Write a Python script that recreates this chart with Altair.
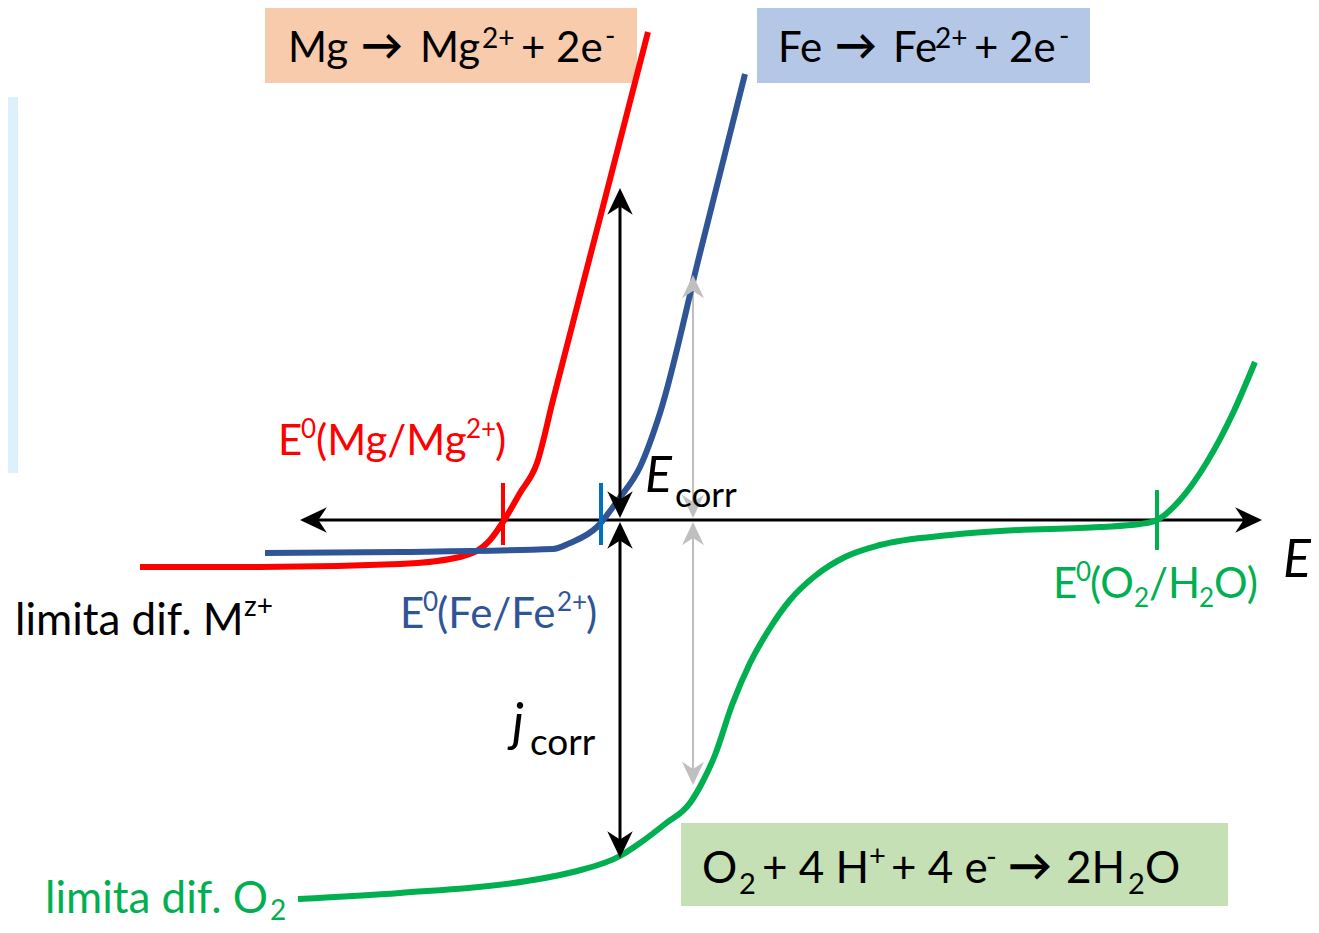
import altair as alt
import pandas as pd

# ---- coordinate system: E (horizontal, reference px units), j = AXIS_ROW - row ----
AXIS_ROW = 520

# Anodic curve Mg -> Mg2+ (E, row)
mg_E = [140, 260, 400, 460, 490, 503, 520, 537, 553, 600, 648]
mg_row = [567, 567, 564, 557, 540, 522, 493, 463, 400, 218, 32]

# Anodic curve Fe -> Fe2+
fe_E = [265, 400, 553, 570, 597, 618, 640, 660, 700, 745]
fe_row = [553, 552, 549, 543, 527, 500, 467, 413, 253, 74]

# O2 / H2O curve
o2_E = [298, 400, 527, 573, 620, 640, 665, 690, 702, 715, 732, 750, 770, 790, 815, 845, 880,
        950, 1000, 1100, 1140, 1157, 1180, 1207, 1233, 1255]
o2_row = [899, 893, 881, 872, 856, 843, 824, 803, 783, 755, 705, 663, 628, 600, 576, 557, 545,
          535, 531, 527, 524, 520, 500, 462, 413, 362]

# straight segments: x, row, x2, row2, color, width
seg_x = [308, 620, 620, 693, 693]
seg_r = [520, 196, 528, 283, 528]
seg_x2 = [1254, 620, 620, 693, 693]
seg_r2 = [520, 512, 850, 512, 777]
seg_col = ["#000000", "#000000", "#000000", "#bfbfbf", "#bfbfbf"]
seg_w = [3, 3, 3, 2, 2]

# E0 tick marks
tick_x = [503, 601, 1157]
tick_r = [483, 483, 490]
tick_r2 = [545, 545, 550]
tick_col = ["#ff0000", "#0070c0", "#00b050"]

# arrow heads: tip position, angle (deg), color, size
head_x = [300, 1262, 620, 620, 620, 620, 693, 693, 693, 693]
head_r = [520, 520, 188, 518, 522, 858, 275, 518, 522, 785]
head_a = [270, 90, 0, 180, 0, 180, 0, 180, 0, 180]
head_c = ["#000000"] * 6 + ["#bfbfbf"] * 4
head_s = [800, 800, 800, 800, 800, 800, 600, 600, 600, 600]

# boxes
box_x = [265, 757, 681, 8]
box_r = [6, 6, 823, 97]
box_x2 = [637, 1090, 1228, 18]
box_r2 = [83, 83, 906, 473]
box_col = ["#f8cbad", "#b4c7e7", "#c5e0b4", "#ddf0fb"]

K, R, B, G = "#000000", "#ff0000", "#2f5597", "#00b050"

# text pieces: text, x (left), baseline row, font size, colour, weight
pieces = [
    # Mg -> Mg2+ + 2e-
    ("Mg", 288, 62, 42, K, "normal"), ("→", 361, 60, 42, K, "bold"),
    ("Mg", 420, 62, 42, K, "normal"), ("2+", 482, 48, 28, K, "normal"),
    ("+ 2e", 521, 62, 42, K, "normal"), ("-", 605, 46, 28, K, "normal"),
    # Fe -> Fe2+ + 2e-
    ("Fe", 778, 62, 42, K, "normal"), ("→", 835, 60, 42, K, "bold"),
    ("Fe", 893, 62, 42, K, "normal"), ("2+", 935, 48, 28, K, "normal"),
    ("+ 2e", 974, 62, 42, K, "normal"), ("-", 1059, 46, 28, K, "normal"),
    # O2 + 4 H+ + 4 e- -> 2H2O
    ("O", 702, 883, 44, K, "normal"), ("2", 739, 894, 29, K, "normal"),
    ("+ 4 H", 762, 883, 44, K, "normal"), ("+", 869, 866, 29, K, "normal"),
    ("+ 4 e", 891, 883, 44, K, "normal"), ("-", 986, 867, 29, K, "normal"),
    ("→", 1008, 881, 44, K, "bold"), ("2H", 1066, 883, 44, K, "normal"),
    ("2", 1128, 894, 29, K, "normal"), ("O", 1145, 883, 44, K, "normal"),
    # E0(Mg/Mg2+)
    ("E", 278, 455, 42, R, "normal"), ("0", 301, 438, 26, R, "normal"),
    ("(Mg/Mg", 316, 455, 42, R, "normal"), ("2+", 466, 438, 26, R, "normal"),
    (")", 495, 455, 42, R, "normal"),
    # E0(Fe/Fe2+)
    ("E", 400, 628, 42, B, "normal"), ("0", 423, 611, 26, B, "normal"),
    ("(Fe/Fe", 437, 628, 42, B, "normal"), ("2+", 557, 611, 26, B, "normal"),
    (")", 586, 628, 42, B, "normal"),
    # E0(O2/H2O)
    ("E", 1053, 598, 42, G, "normal"), ("0", 1076, 581, 26, G, "normal"),
    ("(O", 1090, 598, 42, G, "normal"), ("2", 1134, 607, 26, G, "normal"),
    ("/H", 1149, 598, 42, G, "normal"), ("2", 1199, 607, 26, G, "normal"),
    ("O)", 1214, 598, 42, G, "normal"),
    # diffusion limits
    ("limita dif. M", 15, 635, 44, K, "normal"), ("z+", 244, 616, 28, K, "normal"),
    ("limita dif. O", 45, 913, 44, G, "normal"), ("2", 270, 920, 28, G, "normal"),
    # subscripts of E_corr / j_corr
    ("corr", 675, 507, 35, K, "normal"), ("corr", 530, 755, 37, K, "normal"),
]

# italic texts
itx = ["E", "E", "j"]
itx_x = [1283, 645, 512]
itx_r = [577, 492, 741]
itx_size = [52, 50, 52]

FONT = "Lato, 'Noto Sans', 'DejaVu Sans', sans-serif"

xs = alt.Scale(domain=[8, 1311], nice=False, zero=False)
ys = alt.Scale(domain=[AXIS_ROW - 925, AXIS_ROW - 8], nice=False, zero=False)
noax = dict(axis=None)


def jv(rows):
    return [AXIS_ROW - r for r in rows]


curves = pd.concat([
    pd.DataFrame({"E": mg_E, "j": jv(mg_row), "k": "Mg", "c": R, "o": range(len(mg_E))}),
    pd.DataFrame({"E": fe_E, "j": jv(fe_row), "k": "Fe", "c": B, "o": range(len(fe_E))}),
    pd.DataFrame({"E": o2_E, "j": jv(o2_row), "k": "O2", "c": G, "o": range(len(o2_E))}),
])
segs = pd.DataFrame({"x": seg_x, "y": jv(seg_r), "x2": seg_x2, "y2": jv(seg_r2),
                     "c": seg_col, "w": seg_w})
gray_segs = segs[segs.c == "#bfbfbf"]
black_segs = segs[segs.c == "#000000"]
ticks = pd.DataFrame({"x": tick_x, "y": jv(tick_r), "y2": jv(tick_r2), "c": tick_col})
heads = pd.DataFrame({"x": head_x, "y": jv(head_r), "a": head_a, "c": head_c, "s": head_s})
boxes = pd.DataFrame({"x": box_x, "y": jv(box_r), "x2": box_x2, "y2": jv(box_r2), "c": box_col})
texts = pd.DataFrame(pieces, columns=["t", "x", "r", "s", "c", "w"])
texts["y"] = jv(texts["r"])
itexts = pd.DataFrame({"x": itx_x, "y": jv(itx_r), "t": itx, "s": itx_size})

HEAD = "M0,0L0.9,1.9L0,1.3L-0.9,1.9Z"

box_layer = alt.Chart(boxes).mark_rect().encode(
    x=alt.X("x:Q", scale=xs, **noax), x2="x2", y=alt.Y("y:Q", scale=ys, **noax), y2="y2",
    color=alt.Color("c:N", scale=None))


def seg_layer(df):
    return alt.Chart(df).mark_rule().encode(
        x=alt.X("x:Q", scale=xs, **noax), x2="x2", y=alt.Y("y:Q", scale=ys, **noax), y2="y2",
        color=alt.Color("c:N", scale=None), strokeWidth=alt.StrokeWidth("w:Q", scale=None))


curve_layer = alt.Chart(curves).mark_line(interpolate="monotone", strokeWidth=6,
                                          strokeCap="butt").encode(
    x=alt.X("E:Q", scale=xs, **noax), y=alt.Y("j:Q", scale=ys, **noax),
    detail="k:N", order="o:Q", color=alt.Color("c:N", scale=None))

tick_layer = alt.Chart(ticks).mark_rule(strokeWidth=4).encode(
    x=alt.X("x:Q", scale=xs, **noax), y=alt.Y("y:Q", scale=ys, **noax), y2="y2",
    color=alt.Color("c:N", scale=None))

head_layer = alt.Chart(heads).mark_point(shape=HEAD, filled=True, opacity=1,
                                         strokeWidth=0).encode(
    x=alt.X("x:Q", scale=xs, **noax), y=alt.Y("y:Q", scale=ys, **noax),
    angle=alt.Angle("a:Q", scale=None), color=alt.Color("c:N", scale=None),
    size=alt.Size("s:Q", scale=None))


def text_layer(df, weight):
    return alt.Chart(df).mark_text(align="left", baseline="alphabetic", font=FONT,
                                   fontWeight=weight).encode(
        x=alt.X("x:Q", scale=xs, **noax), y=alt.Y("y:Q", scale=ys, **noax),
        text="t:N", color=alt.Color("c:N", scale=None), size=alt.Size("s:Q", scale=None))


itext_layer = alt.Chart(itexts).mark_text(align="left", baseline="alphabetic", font=FONT,
                                          fontStyle="italic", color="#000000").encode(
    x=alt.X("x:Q", scale=xs, **noax), y=alt.Y("y:Q", scale=ys, **noax),
    text="t:N", size=alt.Size("s:Q", scale=None))

chart = alt.layer(
    box_layer, seg_layer(gray_segs), seg_layer(black_segs.iloc[:1]), curve_layer,
    tick_layer, seg_layer(black_segs.iloc[1:]), head_layer,
    text_layer(texts[texts.w == "normal"], "normal"),
    text_layer(texts[texts.w == "bold"], "bold"), itext_layer
).properties(
    width=1303, height=917, padding=0, background="#ffffff",
    autosize=alt.AutoSizeParams(type="none")
).configure_view(stroke=None)

chart.save("out.html", embed_options={"renderer": "svg", "actions": False})
